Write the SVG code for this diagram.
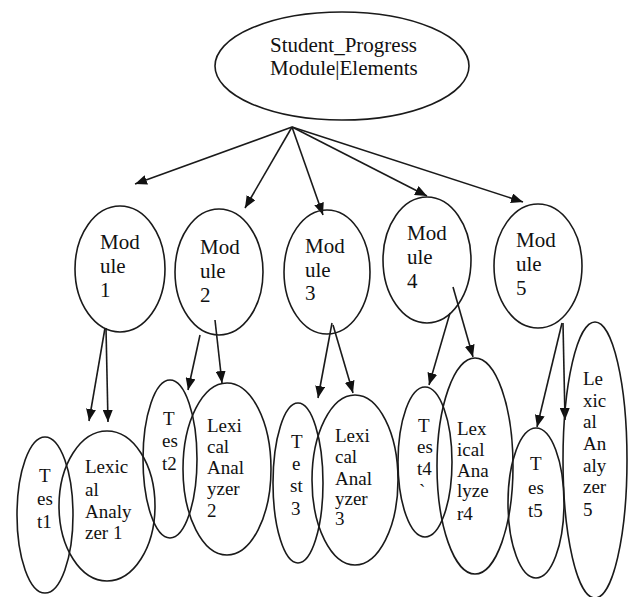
<svg xmlns="http://www.w3.org/2000/svg" width="628" height="597" viewBox="0 0 628 597">
<style>
.n{fill:none;stroke:#1a1a1a;stroke-width:1.6}
.c{stroke:#1a1a1a;stroke-width:1.6;fill:none;marker-end:url(#ah)}
text{font-family:"Liberation Serif","Times New Roman",serif;fill:#111}
.t{font-size:21px}
.m{font-size:21px}
.b{font-size:19px}
</style>
<defs>
<marker id="ah" viewBox="0 0 12 10" refX="12" refY="5" markerWidth="12" markerHeight="10" markerUnits="userSpaceOnUse" orient="auto">
<path d="M0,0 L12,5 L0,10 Z" fill="#111"/>
</marker>
</defs>
<rect width="628" height="597" fill="#fff"/>
<g id="connectors">
<line class="c" x1="292" y1="127" x2="135" y2="184"/>
<line class="c" x1="292" y1="127" x2="245" y2="208"/>
<line class="c" x1="292" y1="127" x2="323" y2="215"/>
<line class="c" x1="292" y1="127" x2="427" y2="196"/>
<line class="c" x1="292" y1="127" x2="523" y2="202"/>
<line class="c" x1="105" y1="328" x2="89" y2="421"/>
<line class="c" x1="106" y1="328" x2="108" y2="422"/>
<line class="c" x1="200" y1="335" x2="188" y2="390"/>
<line class="c" x1="215" y1="320" x2="222" y2="383"/>
<line class="c" x1="332" y1="323" x2="318" y2="398"/>
<line class="c" x1="333" y1="325" x2="353" y2="393"/>
<line class="c" x1="450" y1="313" x2="429" y2="385"/>
<line class="c" x1="453" y1="287" x2="473" y2="357"/>
<line class="c" x1="562" y1="323" x2="537" y2="427"/>
<line class="c" x1="563" y1="323" x2="565" y2="420"/>
</g>
<g id="root">
<ellipse class="n" cx="342" cy="66" rx="127" ry="54"/>
<text class="t" x="270" y="52">Student_Progress</text>
<text class="t" x="270" y="75">Module|Elements</text>
</g>
<g id="module1">
<ellipse class="n" cx="120" cy="269" rx="45" ry="63"/>
<text class="m" x="100" y="249">Mod</text><text class="m" x="100" y="273">ule</text><text class="m" x="100" y="297">1</text>
</g>
<g id="module2">
<ellipse class="n" cx="219" cy="272" rx="44" ry="63"/>
<text class="m" x="200" y="254">Mod</text><text class="m" x="200" y="278">ule</text><text class="m" x="200" y="302">2</text>
</g>
<g id="module3">
<ellipse class="n" cx="327" cy="272" rx="43" ry="62"/>
<text class="m" x="305" y="253">Mod</text><text class="m" x="305" y="277">ule</text><text class="m" x="305" y="300">3</text>
</g>
<g id="module4">
<ellipse class="n" cx="427" cy="260" rx="44" ry="63"/>
<text class="m" x="407" y="240">Mod</text><text class="m" x="407" y="264">ule</text><text class="m" x="407" y="288">4</text>
</g>
<g id="module5">
<ellipse class="n" cx="538" cy="266" rx="44" ry="62"/>
<text class="m" x="516" y="247">Mod</text><text class="m" x="516" y="271">ule</text><text class="m" x="516" y="295">5</text>
</g>
<g id="test1">
<ellipse class="n" cx="45" cy="515" rx="28" ry="78"/>
<text class="b" x="39" y="482">T</text><text class="b" x="37" y="505">es</text><text class="b" x="37" y="528">t1</text>
</g>
<g id="lexical1">
<ellipse class="n" cx="107" cy="506" rx="48" ry="75"/>
<text class="b" x="85" y="473">Lexic</text><text class="b" x="85" y="496">al</text><text class="b" x="85" y="518">Analy</text><text class="b" x="85" y="539">zer 1</text>
</g>
<g id="test2">
<ellipse class="n" cx="170" cy="459" rx="27" ry="79"/>
<text class="b" x="163" y="425">T</text><text class="b" x="162" y="447">es</text><text class="b" x="162" y="470">t2</text>
</g>
<g id="lexical2">
<ellipse class="n" cx="227" cy="469" rx="44" ry="86"/>
<text class="b" x="207" y="432">Lexi</text><text class="b" x="207" y="453">cal</text><text class="b" x="207" y="474">Anal</text><text class="b" x="207" y="495">yzer</text><text class="b" x="207" y="517">2</text>
</g>
<g id="test3">
<ellipse class="n" cx="298" cy="483" rx="25" ry="80"/>
<text class="b" x="291" y="448">T</text><text class="b" x="292" y="470">e</text><text class="b" x="290" y="492">st</text><text class="b" x="291" y="515">3</text>
</g>
<g id="lexical3">
<ellipse class="n" cx="355" cy="480" rx="43" ry="85"/>
<text class="b" x="335" y="442">Lexi</text><text class="b" x="335" y="463">cal</text><text class="b" x="335" y="485">Anal</text><text class="b" x="335" y="505">yzer</text><text class="b" x="335" y="525">3</text>
</g>
<g id="test4">
<ellipse class="n" cx="425" cy="462" rx="27" ry="75"/>
<text class="b" x="418" y="432">T</text><text class="b" x="417" y="453">es</text><text class="b" x="417" y="475">t4</text><text class="b" x="419" y="497">`</text>
</g>
<g id="lexical4">
<ellipse class="n" cx="475" cy="466" rx="38" ry="108"/>
<text class="b" x="457" y="435">Lex</text><text class="b" x="457" y="456">ical</text><text class="b" x="457" y="477">Ana</text><text class="b" x="457" y="497">lyze</text><text class="b" x="457" y="520">r4</text>
</g>
<g id="test5">
<ellipse class="n" cx="536" cy="503" rx="28" ry="75"/>
<text class="b" x="530" y="470">T</text><text class="b" x="528" y="494">es</text><text class="b" x="528" y="517">t5</text>
</g>
<g id="lexical5">
<ellipse class="n" cx="595" cy="460" rx="32" ry="138"/>
<text class="b" x="583" y="385">Le</text><text class="b" x="583" y="407">xic</text><text class="b" x="583" y="428">al</text><text class="b" x="583" y="450">An</text><text class="b" x="583" y="472">aly</text><text class="b" x="583" y="493">zer</text><text class="b" x="583" y="516">5</text>
</g>
</svg>
